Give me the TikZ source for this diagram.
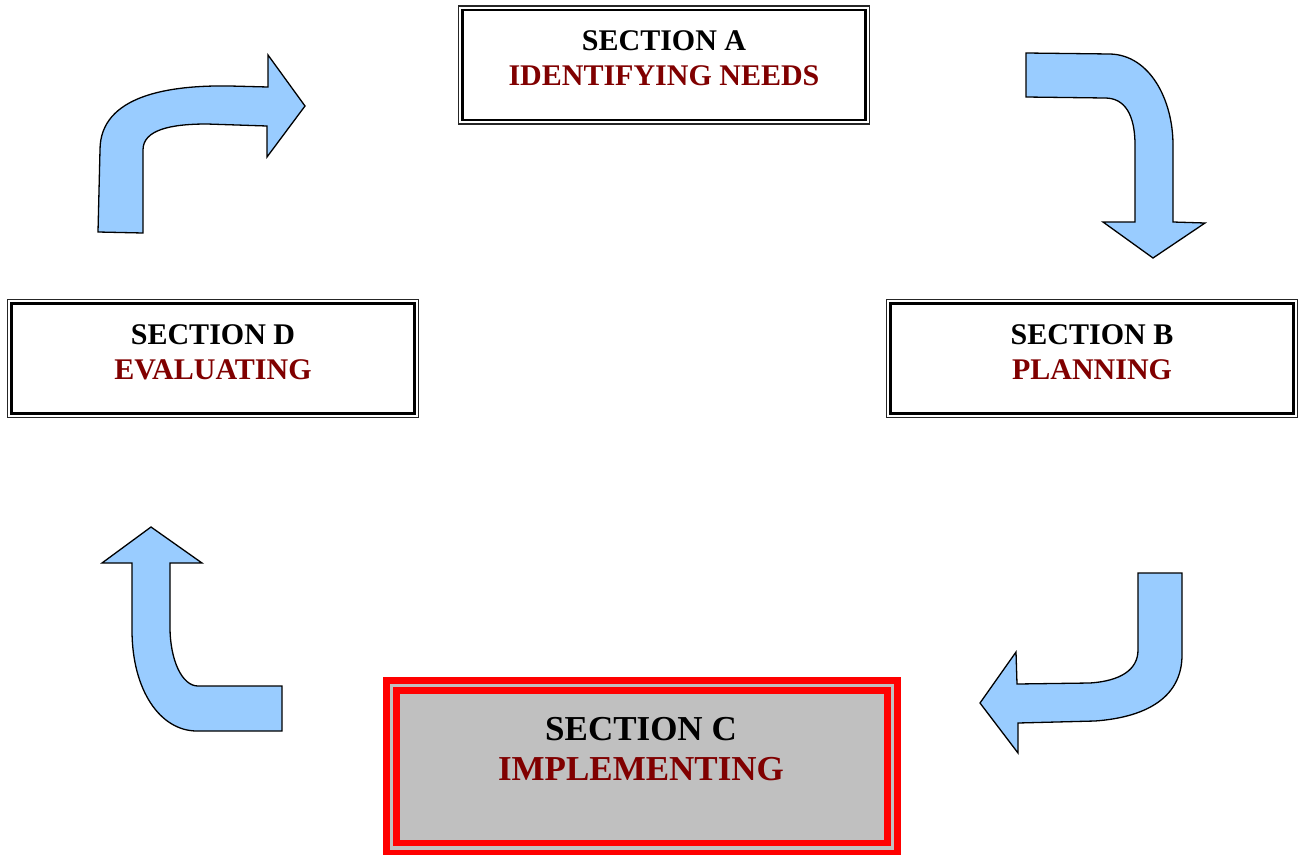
\documentclass[tikz,border=0pt]{standalone}
\usepackage{fontspec}
\setmainfont{Liberation Serif}
\usepackage{xcolor}
\usepackage{tikz}
\usetikzlibrary{arrows.meta}
\definecolor{arrowblue}{HTML}{99CCFF}
\definecolor{maroon}{HTML}{800000}
\definecolor{silver}{HTML}{C0C0C0}

\begin{document}
\begin{tikzpicture}[x=1pt, y=-1pt,
    secbox/.style={draw=black!85, line width=1.2pt, minimum width=411pt, minimum height=118pt, inner sep=0pt},
    sechead/.style={anchor=base, font=\bfseries\fontsize{30}{36}\selectfont},
    secname/.style={sechead, text=maroon},
    bentarrow/.style={draw=black, line width=1.3pt, fill=arrowblue, line join=miter}]
    \useasboundingbox (0,0) rectangle (1301,854);
    % the three plain section boxes
    \foreach \nm/\cx/\cy/\lbl in {A/664/65/IDENTIFYING NEEDS, B/1092/358.5/PLANNING, D/213/358.5/EVALUATING}{
      \node[secbox] (sec\nm) at (\cx,\cy) {};
      \draw[line width=2.6pt] ([shift={(4.6,4.6)}]sec\nm.north west) rectangle ([shift={(-4.6,-4.6)}]sec\nm.south east);
      \node[sechead] (head\nm) at (\cx,\cy-14.5) {SECTION \nm};
      \node[secname] (name\nm) at (\cx,\cy+20.5) {\lbl};
    }
    % section C, highlighted
    \node[draw=red, line width=7pt, minimum width=510.6pt, minimum height=171pt, inner sep=0pt] (secC) at (642,766) {};
    \fill[silver] ([shift={(6.5,6.5)}]secC.north west) rectangle ([shift={(-6.5,-5.5)}]secC.south east);
    \draw[red, line width=6.5pt] ([shift={(13.3,13.3)}]secC.north west) rectangle ([shift={(-13.3,-12)}]secC.south east);
    \node[sechead, font=\bfseries\fontsize{35}{42}\selectfont] (headC) at (641,740) {SECTION C};
    \node[secname, font=\bfseries\fontsize{35}{42}\selectfont] (nameC) at (641,780) {IMPLEMENTING};
    % bent arrows
    \draw[bentarrow] (98,232) -- (100,150) .. controls (100,95) and (170,85) .. (230,86) -- (268,87)
      -- (268,55) -- (305,106) -- (267,157) -- (267,126) -- (207,124)
      .. controls (170,124) and (143,130) .. (143,150) -- (143,233) -- cycle;
    \draw[bentarrow] (1026,53) -- (1110,54) .. controls (1150,55) and (1173,100) .. (1173,145)
      -- (1173,222) -- (1205,223) -- (1153,258) -- (1103,222) -- (1135,222) -- (1135,145)
      .. controls (1135,115) and (1125,98) .. (1105,98) -- (1026,97) -- cycle;
    \draw[bentarrow] (1138,573) -- (1182,573) -- (1182,655) .. controls (1182,695) and (1150,717) .. (1095,721)
      -- (1018,723) -- (1018,753) -- (980,703) -- (1016,652) -- (1017,684) -- (1090,683)
      .. controls (1120,681) and (1138,670) .. (1138,650) -- cycle;
    \draw[bentarrow] (282,686) -- (282,731) -- (197,731) .. controls (160,731) and (132,690) .. (132,630)
      -- (132,563) -- (102,563) -- (151,527) -- (202,563) -- (170,563) -- (170,627)
      .. controls (170,660) and (182,686) .. (198,686) -- cycle;
\end{tikzpicture}
\end{document}
